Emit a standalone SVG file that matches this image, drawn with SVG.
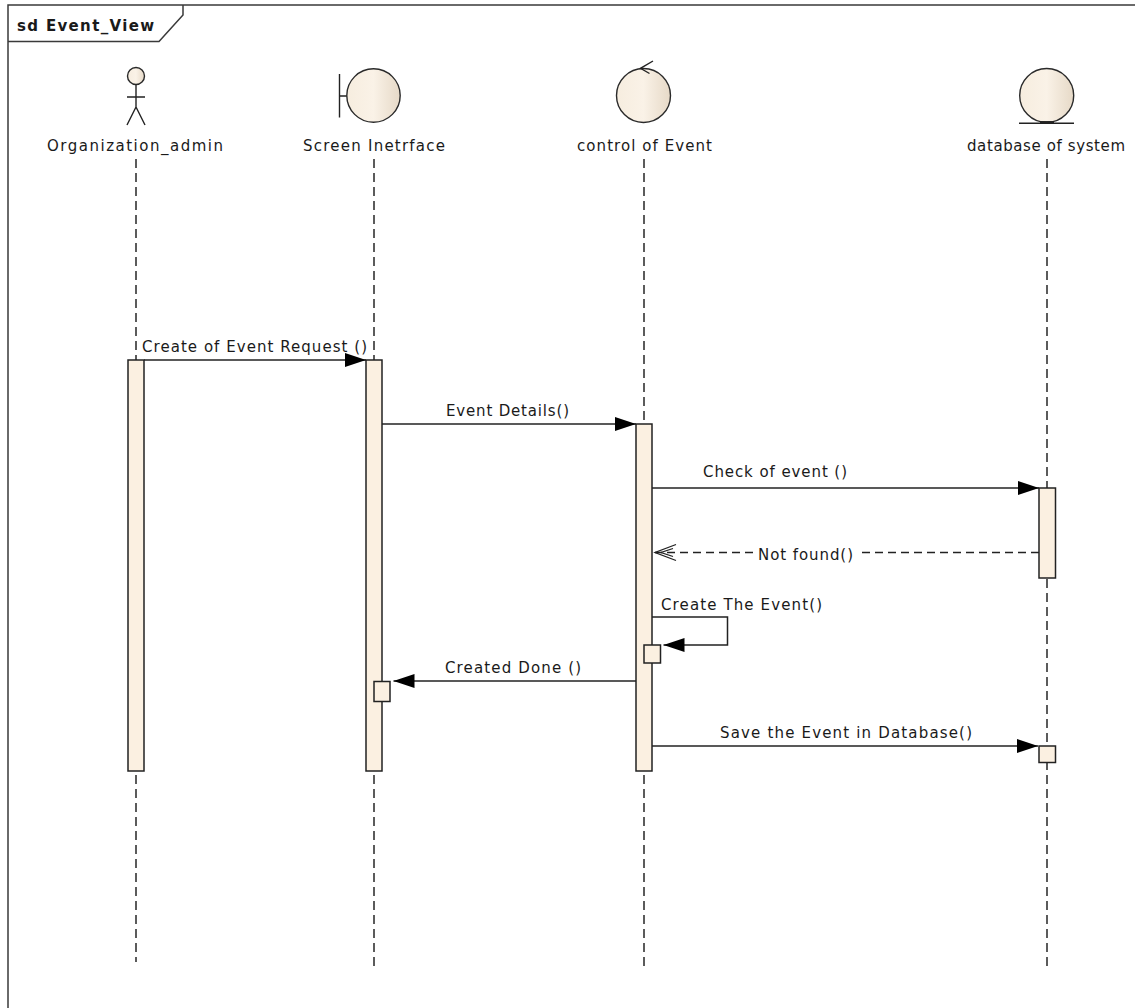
<svg xmlns="http://www.w3.org/2000/svg" width="1135" height="1008" viewBox="0 0 1135 1008">
<style>
text{font-family:"DejaVu Sans","Liberation Sans",sans-serif;font-size:15px;fill:#1a1a1a}
.title{font-weight:bold}
.frame{fill:none;stroke:#3a3a3a;stroke-width:1.5}
.sym{fill:url(#cream);stroke:#2a2a2a;stroke-width:1.4}
.stk{fill:none;stroke:#222;stroke-width:1.4}
.life{stroke:#333;stroke-width:1.6;stroke-dasharray:9 5;fill:none}
.act{fill:#fbf0e1;stroke:#222;stroke-width:1.5}
.msg{fill:none;stroke:#222;stroke-width:1.5}
.ret{fill:none;stroke:#222;stroke-width:1.5;stroke-dasharray:8 5}
</style>
<defs>
<linearGradient id="cream" x1="0" y1="0" x2="1" y2="0">
<stop offset="0" stop-color="#f6eddf"/>
<stop offset="0.5" stop-color="#faf2e7"/>
<stop offset="1" stop-color="#e6d9c7"/>
</linearGradient>
<marker id="fill" markerUnits="userSpaceOnUse" markerWidth="22" markerHeight="16" refX="21" refY="8" orient="auto">
<path d="M0,1 L21,8 L0,15 Z" fill="#000"/>
</marker>
<marker id="open" markerUnits="userSpaceOnUse" markerWidth="24" markerHeight="20" refX="22" refY="10" orient="auto">
<path d="M1,2 L22,10 L1,18 M4,6 L16,10 L4,14" fill="none" stroke="#222" stroke-width="1.3"/>
</marker>
</defs>
<rect width="1135" height="1008" fill="#fff"/>
<g id="frame">
<rect class="frame" x="8" y="5" width="1140" height="1012"/>
<path class="frame" d="M8,41.5 H159 L183,15 V5"/>
<text class="title" x="17" y="30.5" textLength="137" lengthAdjust="spacing">sd Event_View</text>
</g>
<g id="lifelines">
<line class="life" x1="136" y1="159" x2="136" y2="962"/>
<line class="life" x1="374" y1="159" x2="374" y2="966"/>
<line class="life" x1="644" y1="159" x2="644" y2="966"/>
<line class="life" x1="1047" y1="159" x2="1047" y2="966"/>
</g>
<g id="Organization_admin">
<circle class="sym" cx="136" cy="76" r="8.5"/>
<path class="stk" d="M136,84.5 V107 M127,97 H145 M127,125 L136,107 L145,125"/>
<text x="47" y="150.5" textLength="176" lengthAdjust="spacing">Organization_admin</text>
<rect class="act" x="128" y="360" width="16" height="411"/>
</g>
<g id="Screen_Inetrface">
<path class="stk" d="M339.5,74 V117.5 M339.5,96 H347"/>
<circle class="sym" cx="373.5" cy="95.5" r="26.7"/>
<text x="303" y="150.5" textLength="142" lengthAdjust="spacing">Screen Inetrface</text>
<rect class="act" x="366" y="360" width="16" height="411"/>
<rect class="act" x="374" y="681.5" width="16" height="20"/>
</g>
<g id="control_of_Event">
<circle class="sym" cx="643.5" cy="95.5" r="27"/>
<path class="stk" d="M653,61 L640.5,68.3 L649.5,73.5"/>
<text x="577" y="150.5" textLength="135" lengthAdjust="spacing">control of Event</text>
<rect class="act" x="636" y="424" width="16" height="347"/>
<rect class="act" x="644" y="645" width="16.5" height="18"/>
</g>
<g id="database_of_system">
<circle class="sym" cx="1046.7" cy="95.5" r="27"/>
<path class="stk" d="M1019,123.3 H1074"/>
<path d="M1040,122.3 H1054" stroke="#222" stroke-width="2.5"/>
<text x="967" y="150.5" textLength="158" lengthAdjust="spacing">database of system</text>
<rect class="act" x="1039" y="488" width="16.5" height="90"/>
<rect class="act" x="1039" y="746" width="16.5" height="16.5"/>
</g>
<g id="connectors">
<line class="msg" x1="144" y1="360" x2="366" y2="360" marker-end="url(#fill)"/>
<line class="msg" x1="382" y1="424" x2="636" y2="424" marker-end="url(#fill)"/>
<line class="msg" x1="652" y1="488" x2="1039" y2="488" marker-end="url(#fill)"/>
<line class="ret" x1="1039" y1="552.5" x2="655" y2="552.5" marker-end="url(#open)"/>
<path class="msg" d="M652,617 H727.5 V645 H663.5" marker-end="url(#fill)"/>
<line class="msg" x1="636" y1="681" x2="393.5" y2="681" marker-end="url(#fill)"/>
<line class="msg" x1="652" y1="746" x2="1038" y2="746" marker-end="url(#fill)"/>
</g>
<g id="labels">
<text x="142" y="351.5" textLength="225" lengthAdjust="spacing">Create of Event Request ()</text>
<text x="446" y="415.5" textLength="123" lengthAdjust="spacing">Event Details()</text>
<text x="703" y="477" textLength="144" lengthAdjust="spacing">Check of event ()</text>
<rect x="755" y="543" width="102" height="20" fill="#fff"/>
<text x="758" y="560" textLength="95" lengthAdjust="spacing">Not found()</text>
<text x="661" y="609.5" textLength="161" lengthAdjust="spacing">Create The Event()</text>
<text x="445" y="673" textLength="136" lengthAdjust="spacing">Created Done ()</text>
<text x="720" y="737.5" textLength="252" lengthAdjust="spacing">Save the Event in Database()</text>
</g>
</svg>
